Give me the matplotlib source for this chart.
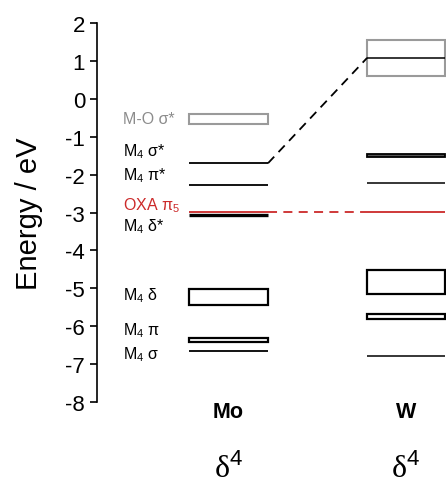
import matplotlib
matplotlib.use("Agg")
import matplotlib.pyplot as plt
from matplotlib.patches import Rectangle

plt.rcParams['font.family'] = ['Liberation Sans', 'DejaVu Sans']
plt.rcParams['mathtext.fontset'] = 'custom'
plt.rcParams['mathtext.rm'] = 'Liberation Sans'
plt.rcParams['mathtext.it'] = 'Liberation Sans'

# energies (eV)
mo_lines = [-1.70, -2.27, -6.65]
mo_delta_star = -3.07
mo_boxes = [(-5.43, -5.02), (-6.41, -6.31)]
mo_mo_sigma = (-0.66, -0.40)

w_lines = [1.08, -2.23, -6.78]
w_boxes = [(-5.15, -4.53), (-5.81, -5.68)]
w_sigma_star = (-1.54, -1.46)
w_mo_sigma = (0.60, 1.55)

oxa_pi5 = -2.98

labels = ['M-O σ*', 'M$_4$ σ*', 'M$_4$ π*', 'OXA π$_5$', 'M$_4$ δ*',
          'M$_4$ δ', 'M$_4$ π', 'M$_4$ σ']
label_y = [-0.51, -1.38, -2.0, -2.78, -3.36, -5.18, -6.1, -6.73]
label_colors = ['#8c8c8c', 'black', 'black', '#cc2a2a', 'black',
                'black', 'black', 'black']

metals = ['Mo', 'W']
configs = ['δ$^4$', 'δ$^4$']

red = '#cc2a2a'
grey = '#9a9a9a'
mo_x = (0.264, 0.490)
w_x = (0.774, 0.997)

fig = plt.figure(figsize=(4.46, 4.85), dpi=100)
ax = fig.add_axes([97/446, 1 - 403/485, 1 - 97/446, (403 - 24)/485])
ax.set_xlim(0, 1)
ax.set_ylim(-8, 2)


def box(x, lo, hi, ec='black', fc='none', lw=1.6):
    ax.add_patch(Rectangle((x[0], lo), x[1] - x[0], hi - lo,
                           ec=ec, fc=fc, lw=lw))


# Mo column
box(mo_x, *mo_mo_sigma, ec=grey, lw=1.5)
ax.hlines(mo_lines, mo_x[0], mo_x[1], color='black', lw=1.3)
ax.hlines(mo_delta_star, mo_x[0], mo_x[1], color='black', lw=2.4)
for lo, hi in mo_boxes:
    box(mo_x, lo, hi)
ax.hlines(oxa_pi5, mo_x[0], mo_x[1], color=red, lw=1.3)

# W column
box(w_x, *w_mo_sigma, ec=grey, lw=1.5)
ax.hlines(w_lines, w_x[0], w_x[1], color='black', lw=1.1)
box(w_x, *w_sigma_star, ec='black', fc='#555555', lw=1.3)
for lo, hi in w_boxes:
    box(w_x, lo, hi)
ax.hlines(oxa_pi5, w_x[0], w_x[1], color=red, lw=1.3)

# correlation lines
ax.plot([mo_x[1], w_x[0]], [mo_lines[0], w_lines[0]], color='black',
        lw=1.3, dashes=(5, 3.5))
ax.plot([mo_x[1], w_x[0]], [oxa_pi5, oxa_pi5], color=red,
        lw=1.3, dashes=(5, 3.5))

for t, y, c in zip(labels, label_y, label_colors):
    ax.text(0.0745, y, t, color=c, fontsize=11.5, va='center', ha='left')

for m, c, x in zip(metals, configs, [mo_x, w_x]):
    xc = (x[0] + x[1]) / 2
    ax.text(xc, -8.24, m, fontsize=15.5, fontweight='bold', ha='center',
            va='center', clip_on=False)
    ax.text(xc, -9.75, c, fontsize=23, family='Liberation Serif',
            ha='center', va='center', clip_on=False)

ax.set_yticks(range(-8, 3))
ax.set_yticklabels([str(v) for v in range(-8, 3)])
ax.tick_params(axis='y', labelsize=16, length=5, width=1.2, direction='out')
ax.set_xticks([])
for s in ['top', 'right', 'bottom']:
    ax.spines[s].set_visible(False)
ax.spines['left'].set_linewidth(1.2)
ax.set_ylabel('Energy / eV', fontsize=21, labelpad=16)

fig.savefig('out.png', dpi=100)
